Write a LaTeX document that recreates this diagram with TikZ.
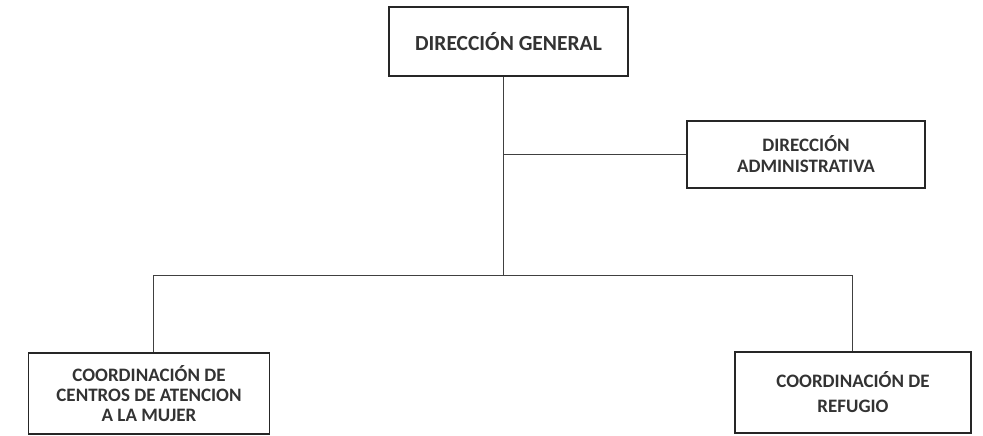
\documentclass[tikz,border=0pt]{standalone}
\usepackage{fontspec}
\setmainfont{Carlito}
\begin{document}
\begin{tikzpicture}[x=1pt,y=-1pt,
  orgbox/.style={draw=black!85, line width=1.6pt, rectangle, align=center,
    text=black!80, inner sep=0pt},
  link/.style={draw=black!75, line width=0.9pt}]
\useasboundingbox (0,0) rectangle (983,436);
\node[orgbox, minimum width=239pt, minimum height=69pt, font=\bfseries\fontsize{21.5}{24}\selectfont] (top) at (508.5,41.5) {DIRECCIÓN GENERAL};
\node[orgbox, minimum width=238pt, minimum height=67pt, font=\bfseries\fontsize{19}{21}\selectfont] (adm) at (806,154.5) {DIRECCIÓN\\ADMINISTRATIVA};
\node[orgbox, minimum width=241pt, minimum height=81pt, font=\bfseries\fontsize{19}{20}\selectfont] (left) at (149,393.5) {COORDINACIÓN DE\\CENTROS DE ATENCION\\A LA MUJER};
\node[orgbox, minimum width=236pt, minimum height=81pt, font=\bfseries\fontsize{19}{25}\selectfont] (right) at (853,392.5) {COORDINACIÓN DE\\REFUGIO};
\coordinate (jAdm) at (503,154.5);
\coordinate (jBar) at (503,275);
\coordinate (cL) at (153,275);
\coordinate (cR) at (852,275);
\draw[link] (top.south -| jAdm) -- (jBar);
\draw[link] (jAdm) -- (adm.west);
\draw[link] (cL) -- (cR);
\draw[link] (cL) -- (cL |- left.north);
\draw[link] (cR) -- (cR |- right.north);
\end{tikzpicture}
\end{document}
